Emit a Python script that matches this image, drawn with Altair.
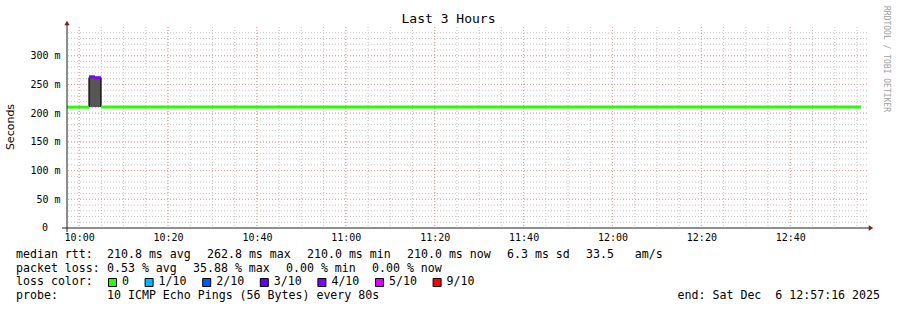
import altair as alt
import pandas as pd

DAY = "2025-12-06"

# ---------------- data ----------------
# median rtt segments (start, end, value in ms, loss bucket)
median_start = ["09:57:16", "10:02:13", "10:03:35", "10:04:55"]
median_end = ["10:02:13", "10:03:35", "10:04:55", "12:55:56"]
median_ms = [210.5, 263.3, 261.7, 210.5]
median_loss = ["0", "4/10", "4/10", "0"]

# smoke (spread of the pings)
smoke_start = ["10:02:13"]
smoke_end = ["10:04:55"]
smoke_lo = [210.5]
smoke_hi = [262.0]

loss_labels = ["0", "1/10", "2/10", "3/10", "4/10", "5/10", "9/10"]
loss_colors = ["#26ff00", "#00b8ff", "#0059ff", "#5e00ff", "#7e00ff", "#dd00ff", "#ff0000"]

y_tick_values = [50, 100, 150, 200, 250, 300]
y_zero = [0]
y_minor_values = [v for v in range(10, 350, 10)]
x_major_times = [t.strftime("%H:%M:%S") for t in pd.date_range(f"{DAY} 10:00", f"{DAY} 12:40", freq="20min")]
x_minor_times = [t.strftime("%H:%M:%S") for t in pd.date_range(f"{DAY} 10:00", f"{DAY} 12:55", freq="5min")]

title_text = "Last 3 Hours"
y_title = "Seconds"
watermark = "RRDTOOL / TOBI OETIKER"
rtt_label = "median rtt:"
rtt_items = ["210.8 ms avg", "262.8 ms max", "210.0 ms min", "210.0 ms now", "6.3 ms sd", "33.5   am/s"]
loss_label = "packet loss:"
loss_items = ["0.53 % avg", "35.88 % max", "0.00 % min", "0.00 % now"]
color_label = "loss color:"
probe_label = "probe:"
probe_items = ["10 ICMP Echo Pings (56 Bytes) every 80s"]
legend_end = "end: Sat Dec  6 12:57:16 2025"


def ts(hms):
    return f"{DAY}T{hms}"


def dt(h, m, s=0):
    return alt.DateTime(year=2025, month=12, date=6, hours=h, minutes=m, seconds=s)


# ---------------- layout ----------------
W, H = 800, 201
OX, OY = 67, 27  # plot origin in the page
MONO = "DejaVu Sans Mono"
CH = 7.0  # monospace advance of the legend font
xscale = alt.Scale(domain=[dt(9, 57, 16), dt(12, 57, 16)], nice=False)
yscale = alt.Scale(domain=[0, 350], nice=False, zero=True)
blank = alt.Data(values=[{"a": 1}])

x_axis = alt.Axis(
    title=None, values=[dt(int(t[:2]), int(t[3:5])) for t in x_major_times],
    format="%H:%M", grid=False, ticks=False, domain=False,
    labelFont=MONO, labelFontSize=10, labelColor="#000000", labelPadding=4,
)
y_axis = alt.Axis(
    title=None, values=y_tick_values, grid=False, ticks=False, domain=False,
    labelFont=MONO, labelFontSize=10, labelColor="#000000", labelPadding=7,
    labelExpr="datum.value + '\u00a0m'",
)


def X(field):
    return alt.X(f"{field}:T", scale=xscale, axis=x_axis)


def Y(field):
    return alt.Y(f"{field}:Q", scale=yscale, axis=y_axis)


def nb(s):
    return s.replace(" ", "\u00a0")


layers = []

# minor grid
layers.append(
    alt.Chart(pd.DataFrame({"v": y_minor_values}))
    .mark_rule(color="#c4c4c4", strokeWidth=1, strokeDash=[1, 2])
    .encode(y=Y("v"))
)
layers.append(
    alt.Chart(pd.DataFrame({"v": [ts(t) for t in x_minor_times]}))
    .mark_rule(color="#c4c4c4", strokeWidth=1, strokeDash=[1, 2])
    .encode(x=X("v"))
)
# major grid
layers.append(
    alt.Chart(pd.DataFrame({"v": y_tick_values}))
    .mark_rule(color="#f09a9a", strokeWidth=1, strokeDash=[1, 2])
    .encode(y=Y("v"))
)
layers.append(
    alt.Chart(pd.DataFrame({"v": [ts(t) for t in x_major_times]}))
    .mark_rule(color="#f09a9a", strokeWidth=1, strokeDash=[1, 2])
    .encode(x=X("v"))
)
# the "0" label, aligned with the digits of the other labels
layers.append(
    alt.Chart(pd.DataFrame({"v": y_zero}))
    .mark_text(text="0", align="right", baseline="middle", font=MONO, fontSize=10, color="#000000")
    .encode(y=Y("v"), x=alt.value(-7 - 12))
)

# smoke
smoke = pd.DataFrame({
    "t0": [ts(t) for t in smoke_start], "t1": [ts(t) for t in smoke_end],
    "lo": smoke_lo, "hi": smoke_hi,
})
layers.append(
    alt.Chart(smoke).mark_rect(color="#565656").encode(x=X("t0"), x2="t1", y=Y("lo"), y2="hi")
)
edges = pd.DataFrame({
    "t0": [ts(smoke_start[0]), ts(smoke_end[0])], "lo": smoke_lo * 2, "hi": smoke_hi * 2,
})
layers.append(
    alt.Chart(edges).mark_rule(color="#000000", strokeWidth=1.2).encode(x=X("t0"), y=Y("lo"), y2="hi")
)

# median line coloured by loss
med = pd.DataFrame({
    "t0": [ts(t) for t in median_start], "t1": [ts(t) for t in median_end],
    "v": median_ms, "loss": median_loss,
})
layers.append(
    alt.Chart(med).mark_rule(strokeWidth=3).encode(
        x=X("t0"), x2="t1", y=Y("v"),
        color=alt.Color("loss:N", scale=alt.Scale(domain=loss_labels, range=loss_colors), legend=None),
    )
)

# axis lines and arrows
layers.append(alt.Chart(blank).mark_rule(color="#1f1f1f", strokeWidth=1).encode(
    x=alt.value(0), y=alt.value(-4), y2=alt.value(H + 4)))
layers.append(alt.Chart(blank).mark_rule(color="#1f1f1f", strokeWidth=1).encode(
    x=alt.value(-5), x2=alt.value(W + 3), y=alt.value(H)))
layers.append(alt.Chart(blank).mark_point(shape="triangle-up", filled=True, size=28, color="#801f1f", opacity=1).encode(
    x=alt.value(0), y=alt.value(-4)))
layers.append(alt.Chart(blank).mark_point(shape="triangle-right", filled=True, size=28, color="#801f1f", opacity=1).encode(
    x=alt.value(W + 4), y=alt.value(H)))


def txt(s, x, y, align="left", font=MONO, size=11.6, color="#000000", angle=0):
    kw = dict(text=nb(s), align=align, baseline="middle", font=font, fontSize=size, color=color)
    if angle:
        kw["angle"] = angle
    return alt.Chart(blank).mark_text(**kw).encode(x=alt.value(x), y=alt.value(y))


def legend_row(label, items, y):
    out = [txt(label, 16 - OX, y - OY)]
    x = 16 + 13 * CH
    for it in items:
        out.append(txt(it, x - OX, y - OY))
        x += CH * (len(it) + 2) + 2
    return out


layers.append(txt(title_text, 448.5 - OX, 19 - OY, align="center", size=13))
layers.append(txt(y_title, 11 - OX, 127 - OY, align="center", font="DejaVu Sans", size=11, angle=270))
layers.append(txt(watermark, 886 - OX, 59 - OY, align="center", size=8, color="#a0a0a0", angle=90))
layers += legend_row(rtt_label, rtt_items, 255)
layers += legend_row(loss_label, loss_items, 268.5)
layers += legend_row(probe_label, probe_items, 296)
layers.append(txt(color_label, 16 - OX, 282 - OY))
layers.append(txt(legend_end, 880 - OX, 296 - OY, align="right"))

# loss colour legend entries
sq_left = 108.0
for lab, col in zip(loss_labels, loss_colors):
    layers.append(
        alt.Chart(blank).mark_square(size=64, filled=True, color=col, stroke="#000000", strokeWidth=1, opacity=1)
        .encode(x=alt.value(sq_left + 4.5 - OX), y=alt.value(282.5 - OY))
    )
    label_left = sq_left + 14
    layers.append(txt(lab, label_left - OX, 282 - OY))
    sq_left = label_left + CH * len(lab) + 15.6

chart = (
    alt.layer(*layers)
    .properties(
        width=W, height=H,
        autosize=alt.AutoSizeParams(type="none"),
        padding={"left": OX, "top": OY, "right": 897 - OX - W, "bottom": 310 - OY - H},
        background="white",
    )
    .configure_view(stroke=None)
)

chart.save("out.html", embed_options={"renderer": "svg", "actions": False})
